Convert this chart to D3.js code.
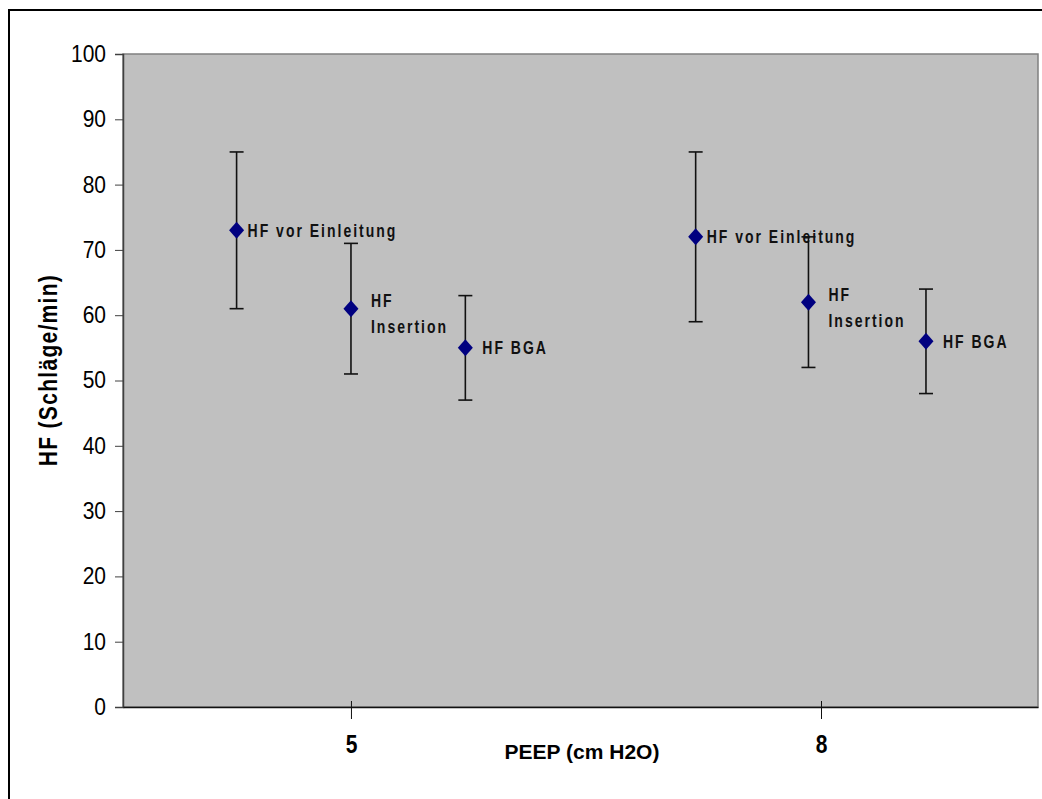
<!DOCTYPE html>
<html>
<head>
<meta charset="utf-8">
<script src="https://cdn.jsdelivr.net/npm/d3@7"></script>
<style>
  body { margin: 0; background: #fff; }
  svg { display: block; font-family: "Liberation Sans", Arial, sans-serif; }
</style>
</head>
<body>
<svg width="1042" height="799"></svg>
<script>
// PEEP groups on the x axis
var xTicks = [5, 8];
var yTicks = [0, 10, 20, 30, 40, 50, 60, 70, 80, 90, 100];

// one point per series per PEEP group (x)
var pointX = [4.27, 5.0, 5.73, 7.2, 7.92, 8.67];
var pointMean = [73, 61, 55, 72, 62, 56];
var errLow = [61, 51, 47, 59, 52, 48];
var errHigh = [85, 71, 63, 85, 72, 64];
var pointLabel = [
  ["HF vor Einleitung"], ["HF", "Insertion"], ["HF BGA"],
  ["HF vor Einleitung"], ["HF", "Insertion"], ["HF BGA"]
];

var labelDx = [11, 20, 17, 11, 20, 17];

var plot = { left: 123, right: 1038, top: 54, bottom: 707 };

var svg = d3.select("svg");

// outer frame (right and bottom edges fall outside the picture)
svg.append("rect")
  .attr("x", 9).attr("y", 10)
  .attr("width", 1100).attr("height", 900)
  .attr("fill", "none")
  .attr("stroke", "#000")
  .attr("stroke-width", 2);

var x = d3.scaleLinear()
  .domain([3.545, 9.385])
  .range([plot.left, plot.right]);

var y = d3.scaleLinear()
  .domain([0, 100])
  .range([plot.bottom, plot.top]);

svg.append("rect")
  .attr("x", plot.left).attr("y", plot.top)
  .attr("width", plot.right - plot.left)
  .attr("height", plot.bottom - plot.top)
  .attr("fill", "#c0c0c0")
  .attr("stroke", "#808080")
  .attr("stroke-width", 1.5);

// y axis
var yAxis = svg.append("g")
  .attr("transform", "translate(" + plot.left + ",0)")
  .call(d3.axisLeft(y).tickValues(yTicks).tickSize(8).tickPadding(9).tickFormat(d3.format("d")));
yAxis.select(".domain").attr("stroke", "#404040").attr("stroke-width", 1.5);
yAxis.selectAll(".tick line").attr("stroke", "#404040");
yAxis.selectAll(".tick text")
  .attr("font-size", 21)
  .attr("font-family", "Liberation Sans, Arial, sans-serif")
  .attr("fill", "#000")
  .attr("transform", "scale(1,1.1)");

// x axis
var xAxis = svg.append("g")
  .attr("transform", "translate(0," + plot.bottom + ")")
  .call(d3.axisBottom(x).tickValues(xTicks).tickSizeInner(12).tickSizeOuter(0).tickPadding(10).tickFormat(d3.format("d")));
xAxis.select(".domain").attr("stroke", "#111").attr("stroke-width", 1.5);
xAxis.selectAll(".tick line").attr("stroke", "#111").attr("y1", -6);
xAxis.selectAll(".tick text")
  .attr("font-size", 21)
  .attr("font-weight", "bold")
  .attr("font-family", "Liberation Sans, Arial, sans-serif")
  .attr("fill", "#000")
  .attr("transform", "scale(1,1.25)");

// axis titles
svg.append("text")
  .attr("x", 582).attr("y", 759)
  .attr("text-anchor", "middle")
  .attr("font-size", 21)
  .attr("font-weight", "bold")
  .attr("fill", "#000")
  .text("PEEP (cm H2O)");

svg.append("g")
  .attr("transform", "translate(57,370) rotate(-90)")
  .append("text")
  .attr("text-anchor", "middle")
  .attr("font-size", 21)
  .attr("font-weight", "bold")
  .attr("letter-spacing", 1.3)
  .attr("fill", "#000")
  .attr("transform", "scale(1,1.25)")
  .text("HF (Schläge/min)");

var idx = d3.range(pointX.length);

// error bars
var bars = svg.append("g").selectAll("g")
  .data(idx)
  .enter().append("g")
  .attr("stroke", "#111")
  .attr("stroke-width", 1.6);

bars.append("line")
  .attr("x1", function (i) { return x(pointX[i]); })
  .attr("x2", function (i) { return x(pointX[i]); })
  .attr("y1", function (i) { return y(errLow[i]); })
  .attr("y2", function (i) { return y(errHigh[i]); });

bars.append("line")
  .attr("x1", function (i) { return x(pointX[i]) - 7; })
  .attr("x2", function (i) { return x(pointX[i]) + 7; })
  .attr("y1", function (i) { return y(errHigh[i]); })
  .attr("y2", function (i) { return y(errHigh[i]); });

bars.append("line")
  .attr("x1", function (i) { return x(pointX[i]) - 7; })
  .attr("x2", function (i) { return x(pointX[i]) + 7; })
  .attr("y1", function (i) { return y(errLow[i]); })
  .attr("y2", function (i) { return y(errLow[i]); });

// diamond markers
svg.append("g").selectAll("path")
  .data(idx)
  .enter().append("path")
  .attr("d", "M0,-8.5L7.5,0L0,8.5L-7.5,0Z")
  .attr("fill", "#000080")
  .attr("transform", function (i) {
    return "translate(" + x(pointX[i]) + "," + y(pointMean[i]) + ")";
  });

// point labels
var labels = svg.append("g").selectAll("g")
  .data(idx)
  .enter().append("g")
  .attr("transform", function (i) {
    return "translate(" + (x(pointX[i]) + labelDx[i]) + "," + y(pointMean[i]) + ")";
  });

labels.append("text")
  .attr("font-size", 14)
  .attr("font-weight", "bold")
  .attr("letter-spacing", 2)
  .attr("fill", "#111")
  .attr("transform", "scale(1,1.25)")
  .each(function (i) {
    var lines = pointLabel[i];
    var t = d3.select(this);
    var start = lines.length === 1 ? 5 : -1;
    lines.forEach(function (s, k) {
      t.append("tspan")
        .attr("x", 0)
        .attr("y", start + k * 20.5)
        .text(s);
    });
  });
</script>
</body>
</html>
